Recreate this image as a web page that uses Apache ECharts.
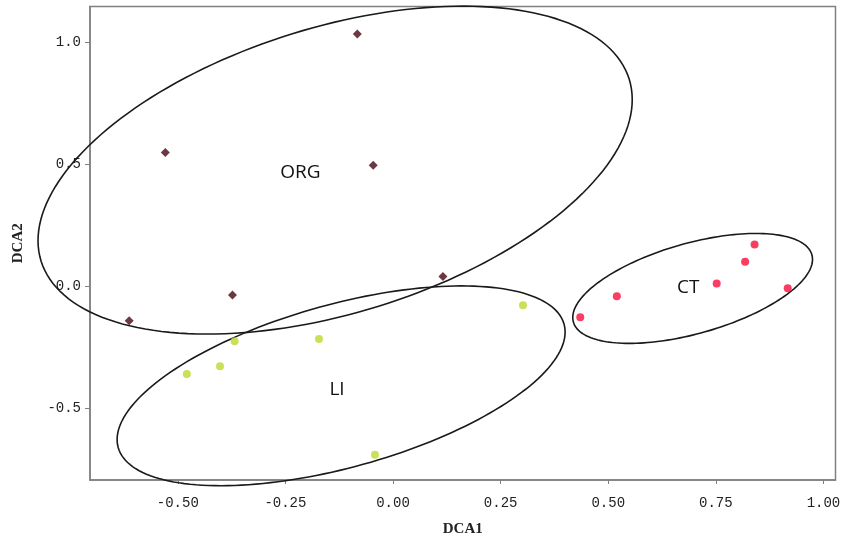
<!DOCTYPE html>
<html>
<head>
<meta charset="utf-8">
<script src="https://cdn.jsdelivr.net/npm/echarts@6/dist/echarts.min.js"></script>
<style>html,body{margin:0;padding:0;background:#fff;}#c{width:844px;height:542px;}</style>
</head>
<body>
<div id="c"></div>
<script>
// ---- data ----
const orgPoints = [[-0.083,1.035],[-0.529,0.549],[-0.046,0.497],[0.116,0.041],[-0.373,-0.035],[-0.613,-0.141]];
const liPoints  = [[-0.368,-0.225],[-0.402,-0.327],[-0.479,-0.359],[-0.172,-0.216],[-0.042,-0.690],[0.302,-0.077]];
const ctPoints  = [[0.435,-0.126],[0.520,-0.040],[0.752,0.012],[0.818,0.101],[0.840,0.172],[0.917,-0.008]];
// ellipse outlines: centre x, centre y, conjugate half-axis U (x,y), V (x,y) in data units
const ellipses = [
  [-0.1345, 0.477, 0.6831, 0.3734, 0.0992, -0.5593],
  [-0.1206, -0.4077, 0.5179, 0.2532, 0.0511, -0.3221],
  [0.6961, -0.0082, 0.2770, 0.1382, 0.0288, -0.1781]
];
const groupLabels = [['ORG',-0.215,0.466],['LI',-0.130,-0.424],['CT',0.686,-0.004]];
const xTicks = [-0.50,-0.25,0.00,0.25,0.50,0.75,1.00];
const yTicks = [-0.5,0.0,0.5,1.0];

const chart = echarts.init(document.getElementById('c'));
const axisCol = '#808080';
const tickFont = {fontFamily:'Liberation Mono', fontSize:14, color:'#222'};
chart.setOption({
  animation:false,
  backgroundColor:'#fff',
  grid:{left:90, top:6.5, right:8.5, bottom:59.3, show:true, borderColor:axisCol, borderWidth:1.5, containLabel:false},
  xAxis:{type:'value', min:-0.704, max:1.028,
    name:'DCA1', nameLocation:'middle', nameGap:42,
    nameTextStyle:{fontFamily:'Liberation Serif', fontWeight:'bold', fontSize:15, color:'#222'},
    axisLine:{show:true, onZero:false, lineStyle:{color:axisCol, width:1.5}},
    axisTick:{show:true, length:4, customValues:xTicks, lineStyle:{color:axisCol}},
    axisLabel:Object.assign({customValues:xTicks, margin:16, formatter:v=>v.toFixed(2)}, tickFont),
    splitLine:{show:false}},
  yAxis:{type:'value', min:-0.794, max:1.148,
    name:'DCA2', nameLocation:'middle', nameGap:64, nameRotate:90,
    nameTextStyle:{fontFamily:'Liberation Serif', fontWeight:'bold', fontSize:15, color:'#222'},
    axisLine:{show:true, onZero:false, lineStyle:{color:axisCol, width:1.5}},
    axisTick:{show:true, length:5, customValues:yTicks, lineStyle:{color:axisCol}},
    axisLabel:Object.assign({customValues:yTicks, margin:9, formatter:v=>v.toFixed(1)}, tickFont),
    splitLine:{show:false}},
  series:[
    {type:'custom', clip:false, silent:true, data:ellipses, encode:{x:0,y:1},
     renderItem:function(params, api){
       const cx=api.value(0), cy=api.value(1), ux=api.value(2), uy=api.value(3), vx=api.value(4), vy=api.value(5);
       const pts=[];
       for(let i=0;i<=180;i++){
         const t=i/180*Math.PI*2;
         pts.push(api.coord([cx+ux*Math.cos(t)+vx*Math.sin(t), cy+uy*Math.cos(t)+vy*Math.sin(t)]));
       }
       return {type:'polygon', shape:{points:pts}, style:{fill:'none', stroke:'#1a1a1a', lineWidth:1.6}};
     }},
    {type:'custom', clip:false, silent:true, data:groupLabels.map(g=>[g[1],g[2]]), encode:{x:0,y:1},
     renderItem:function(params, api){
       const p=api.coord([api.value(0), api.value(1)]);
       return {type:'text', x:p[0], y:p[1], style:{text:groupLabels[params.dataIndex][0], x:0, y:0, align:'center', verticalAlign:'middle', fontFamily:'Open Sans', fontSize:19, fill:'#111'}};
     }},
    {type:'scatter', name:'ORG', data:orgPoints, symbol:'diamond', symbolSize:9, itemStyle:{color:'#4a0614'}},
    {type:'scatter', name:'LI', data:liPoints, symbol:'circle', symbolSize:8, itemStyle:{color:'#bcd82e'}},
    {type:'scatter', name:'CT', data:ctPoints, symbol:'circle', symbolSize:8, itemStyle:{color:'#f80c3c'}}
  ]
});
</script>
</body>
</html>
